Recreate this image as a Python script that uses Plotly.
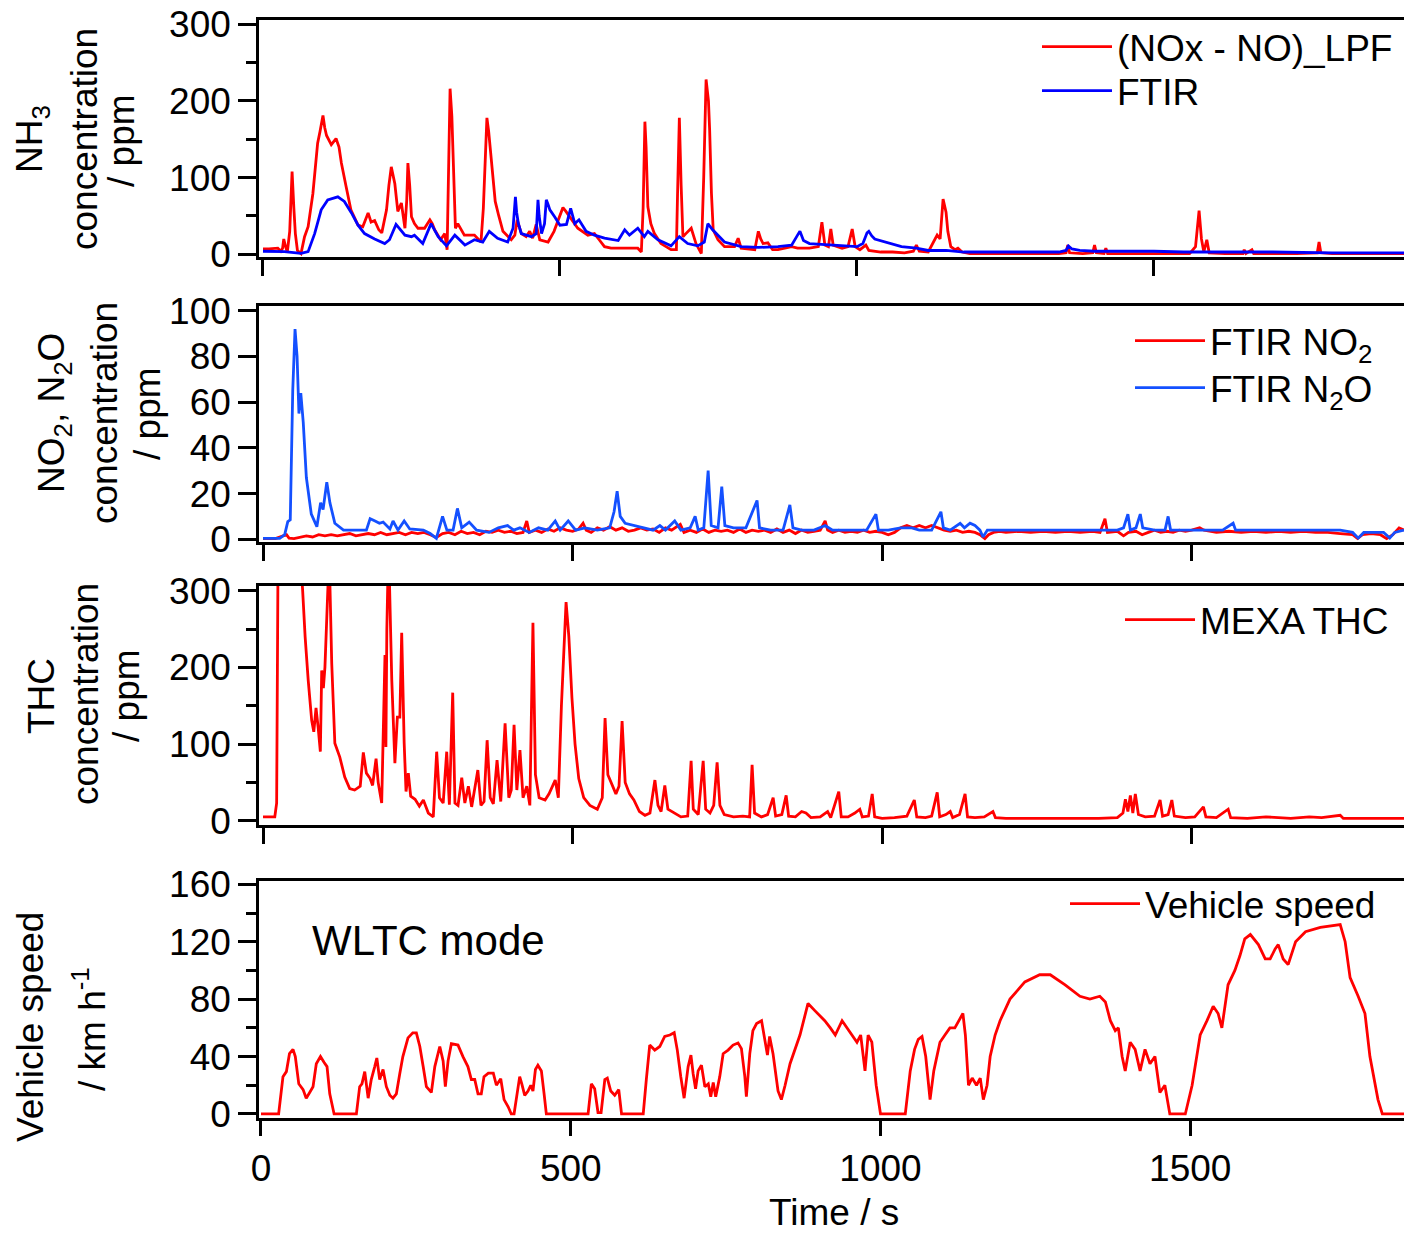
import plotly.graph_objects as go

FONT = "Liberation Sans, Arial, sans-serif"

# ---------------- data (time [s], value) ----------------
# Panel 1: NH3 concentration / ppm
nh3_lpf = [(0,7),(10,7),(25,8),(30,4),(33,8),(35,20),(38,10),(41,3),(45,30),(49,108),(52,60),(54.5,27),
 (58,5),(64,1),(70,23),(76,36),(84,79),(92,145),(96,160),(101,181),(104,165),(107,155),(115,143),(123,151),
 (128,140),(132,119),(140,88),(148,58),(160,38),(168,36),(177,54),(182,42),(188,44),(195,32),(200,28),
 (204,45),(208,58),(212,90),(216,114),(222,92),(227,56),(233,67),(239,34),(242,70),(244,119),(247,90),
 (250,49),(255,40),(261,34),(272,34),(281,45),(285,40),(289,32),(299,19),(306,27),(310,6),(312,80),
 (315,216),(318,180),(320,119),(324,34),(328,40),(339,25),(356,25),(362,20),(367,16),(371,60),(377,178),
 (380,160),(384,123),(391,69),(397,50),(404,30),(418,19),(424,25),(428,45),(435,27),(443,23),(449,30),
 (454,21),(460,39),(466,19),(480,16),(490,30),(497,45),(505,61),(510,56),(516,49),(530,34),(547,25),
 (558,27),(566,19),(575,10),(586,8),(609,8),(631,8),(637,3),(640,60),(643,173),(645,140),(648,62),
 (653,40),(659,27),(670,14),(687,6),(696,6),(698,80),(701,178),(704,90),(707,23),(712,27),(721,34),
 (729,14),(738,1),(742,100),(746,228),(750,200),(752,162),(755,80),(758,32),(766,19),(777,10),(794,10),
 (800,21),(805,8),(828,6),(834,30),(838,20),(842,14),(850,15),(858,6),(867,6),(890,10),(900,8),(920,8),
 (935,10),(941,42),(946,12),(952,10),(956,33),(960,12),(975,8),(985,10),(992,33),(997,10),(1005,6),
 (1015,12),(1020,5),(1040,3),(1060,3),(1080,2),(1095,4),(1100,12),(1105,4),(1120,3),(1135,25),(1140,20),
 (1145,72),(1150,55),(1153,30),(1158,10),(1165,6),(1170,8),(1177,3),(1190,1),(1220,1),(1260,0.5),
 (1300,0.5),(1340,1),(1352,2),(1355,12),(1358,2),(1380,1),(1397,2),(1400,12),(1403,2),(1416,1),(1419,8),
 (1422,1),(1450,1),(1500,1),(1560,1),(1570,10),(1576,57),(1580,20),(1584,3),(1589,19),(1593,2),(1620,1),
 (1650,1),(1652,6),(1655,1),(1665,6),(1668,1),(1700,1),(1740,1),(1775,2),(1778,16),(1781,2),(1800,1),
 (1850,1),(1921,1)]
nh3_ftir = [(0,4),(36,3.5),(64,1.3),(76,3.5),(87,27),(98,58),(109,71),(126,75),(137,69),(149,54),(160,38),
 (171,27),(188,20),(205,14),(213,19),(224,39),(239,25),(250,23),(255,25),(269,14),(283,40),(295,23),
 (309,11),(323,25),(340,12),(356,19),(370,16),(381,30),(395,21),(412,16),(421,34),(423,60),(425,75),
 (427,55),(430,40),(435,27),(452,23),(460,27),(462,55),(463,71),(465,50),(469,27),(474,40),(477,71),
 (480,65),(483,58),(491,49),(500,38),(511,39),(518,60),(525,40),(532,45),(544,30),(558,25),(575,21),
 (598,18),(609,32),(617,25),(631,34),(642,23),(648,30),(665,19),(687,11),(701,23),(715,14),(732,11),
 (743,16),(749,40),(757,32),(777,16),(805,10),(834,9),(867,10),(890,12),(900,25),(904,30),(910,18),
 (920,14),(940,13),(960,12),(985,11),(1000,10),(1010,14),(1017,28),(1020,30),(1025,24),(1030,20),
 (1040,18),(1055,14),(1075,10),(1100,8),(1120,5),(1150,5),(1180,3),(1230,3),(1300,3),(1340,3),(1352,5),
 (1356,11),(1362,7),(1375,5),(1400,4),(1450,4),(1500,4),(1550,3),(1600,3),(1700,3),(1800,2),(1921,2)]

# Panel 2: NO2, N2O concentration / ppm
no2_ftir = [(0,0.3),(20,0.3),(38,2),(42,0.5),(50,0.3),(60,1),(70,1.5),(80,1),(90,2),(100,1.5),(110,2),
 (120,1.5),(130,2),(140,2.5),(150,1.5),(160,2),(170,2.5),(180,2),(190,3),(200,2),(210,2.5),(220,3),
 (230,2),(240,3),(250,2.5),(260,3),(270,2),(280,0.8),(290,2.5),(300,3),(310,2),(320,3.5),(330,2.5),
 (340,3),(350,2),(360,3.5),(370,3),(380,4),(390,3),(400,3.5),(410,2.5),(420,3),(426,8),(430,3),(440,4),
 (450,3),(460,4.5),(470,3.5),(480,5),(490,4),(500,3.5),(510,4.5),(517,7),(522,4),(530,3),(540,5),
 (550,4),(560,5.5),(570,4),(580,5),(590,3.5),(600,4),(610,5),(620,4),(630,4.5),(640,3),(650,5),(660,4),
 (674,6.5),(680,3),(690,4),(700,3),(710,4.5),(720,3),(730,4),(740,3.5),(750,4),(760,3),(770,4.5),
 (780,3),(790,4),(800,3.5),(810,4),(820,3),(830,4.5),(840,3),(850,4),(860,2.5),(870,4),(880,3),
 (890,3.5),(900,4),(908,8),(912,4),(920,3),(930,4),(940,3),(950,3.5),(960,3),(970,4),(980,3),
 (990,3.5),(1000,3),(1010,2),(1020,3),(1030,5),(1040,6),(1050,5),(1060,6),(1070,5),(1080,6),(1090,5),
 (1100,4),(1110,3.5),(1120,4),(1130,3),(1140,3.5),(1150,3),(1158,2),(1166,0.3),(1172,2),(1180,3),
 (1190,3.5),(1200,3),(1220,3.5),(1240,3),(1260,3.5),(1280,3),(1300,3.5),(1320,3),(1340,3.5),(1352,3),
 (1360,9),(1364,3),(1380,3.5),(1390,1.5),(1398,3),(1410,3.5),(1420,2),(1430,3),(1440,4),(1450,3),
 (1460,3.5),(1470,3),(1480,4),(1490,3.5),(1500,4),(1513,5),(1520,4),(1540,3),(1560,3.5),(1580,3),
 (1600,3.5),(1620,3),(1640,3.5),(1660,3),(1680,3.5),(1700,3),(1720,3),(1740,2.5),(1760,2),(1768,0.3),
 (1776,2),(1790,2.5),(1805,2),(1815,0.3),(1825,2),(1835,5),(1843,4)]
n2o_ftir = [(0,0.4),(27,0.4),(35,2),(40,7.7),(44,8.5),(48,65),(51.7,92),(55,80),(58,55),(61,64),(65,51),
 (70,27),(78,11),(87,5.5),(93,16),(97,13),(103,25),(108,16),(116,7),(130,4),(167,4),(173,9),(181,8),
 (188,7),(194,7.5),(205,4.5),(210,8),(218,4),(228,8),(237,4.5),(259,4),(270,2.5),(280,0.4),(290,10),
 (297,4),(307,4),(314,13.5),(321,5),(333,7.5),(345,4),(365,3),(380,5),(395,6),(405,4),(415,5),(430,3),
 (445,5),(460,4),(472,8),(480,4),(493,8),(505,4),(520,5),(540,4),(560,5),(567,12),(572,21),(577,10),
 (585,7),(600,6),(615,5),(630,4),(641,6),(650,4),(665,8),(675,4),(690,5),(698,10),(703,4),(712,5),
 (719,30),(724,6),(735,5),(741,23),(746,6),(760,5),(780,5),(798,17),(802,5),(820,4),(840,4),(851,15),
 (856,5),(870,4),(890,4),(908,6),(920,4),(950,4),(975,4),(990,11),(994,4),(1010,4),(1030,5),(1048,5),
 (1060,4),(1080,4),(1095,12),(1099,5),(1110,4),(1126,7),(1133,5),(1142,7),(1150,6),(1158,4),(1163,1),
 (1170,4),(1200,4),(1250,4),(1300,4),(1350,4),(1380,4),(1390,5),(1397,11),(1401,4),(1410,5),(1417,11),
 (1421,5),(1440,4),(1457,4),(1462,10),(1466,4),(1480,4),(1520,4),(1550,4),(1567,7),(1571,4),(1600,4),
 (1650,4),(1700,4),(1740,4),(1760,3),(1769,0.5),(1778,3),(1800,3),(1810,3),(1820,0.5),(1828,3),(1843,4)]

# Panel 3: THC concentration / ppm (values above 300 run off the axis)
thc_mexa = [(0,5),(19,5),(22,23),(23,183),(25,450),(40,450),(55,420),(64,300),(68,240),(73,183),
 (78.6,131),(82,116),(85.6,147),(89,122),(92.6,90),(94.8,196),(97.5,173),(100,200),(104,300),(106,330),
 (108,310),(111,205),(116,101),(124,83),(132,57),(140,42),(148,40),(157,45),(162,89),(167,62),(173,55),
 (177,46),(182.6,81),(186,50),(191.7,23),(194,129),(197,216),(198.5,96),(200,250),(202,330),(204,320),
 (206,250),(208,183),(213,75),(217,135),(221,135),(224,245),(228,101),(231,38),(234.7,62),(238.5,32),
 (245.6,28),(252.5,19),(259,27),(267,10),(275,5),(280.5,90),(285,30),(291,23),(296.7,90),(301,21),
 (306.4,167),(310,23),(315,20),(321,56),(326,23),(331.7,45),(337,18),(347,66),(352,20),(357,25),
 (362,105),(367,30),(372,22),(378,79),(384,25),(391,127),(397,30),(401,40),(405.5,125),(410,40),
 (415,92),(420,30),(426,45),(431,20),(436,258),(440,60),(446,30),(455.6,27),(462,35),(472,53),(477,30),
 (482,150),(489.5,285),(494,240),(499,160),(504,100),(510,55),(518,30),(528,20),(540,15),(548,30),
 (552.5,134),(557,60),(564,46),(570,35),(575,45),(580,130),(585,50),(592,35),(599,27),(608,12),(617,7),
 (625,10),(633,53),(638,20),(643,12),(649,46),(654,15),(665.6,10),(675,5),(686,6),(691.5,78),(695,15),
 (703,8),(711,78),(715,15),(722,10),(728,20),(733.5,76),(738,20),(745,8),(760,5),(775,6),(786,5),
 (790,73),(794,10),(805,5),(815,8),(824,30),(828,6),(838,8),(845,33),(849,6),(860,5),(870,12),(877,10),
 (885,4),(900,5),(912,12),(917,4),(930,38),(934,5),(945,5),(956,10),(964,15),(968,5),(978,6),(984,35),
 (988,5),(1000,3),(1020,4),(1040,6),(1052,27),(1056,5),(1070,4),(1080,6),(1089,37),(1093,5),(1103,8),
 (1110,12),(1114,4),(1125,8),(1134,35),(1138,5),(1150,4),(1165,5),(1179,12),(1183,4),(1200,3),(1250,3),
 (1300,3),(1350,3),(1380,4),(1389,10),(1393,28),(1397,12),(1401,33),(1405,10),(1409,35),(1414,8),
 (1425,5),(1440,6),(1449,27),(1453,6),(1462,8),(1468,27),(1472,6),(1490,4),(1505,5),(1519,18),
 (1523,5),(1540,4),(1559,15),(1563,4),(1590,3),(1620,5),(1640,4),(1660,3),(1690,5),(1710,4),(1740,7),
 (1745,3),(1780,3),(1843,3)]

# Panel 4: vehicle speed / km h-1 (WLTC mode)
speed = [(0,0),(28.5,0),(35.5,26),(41,29.5),(46,42),(51.7,45),(55.4,40),(61,21),(68,17),(73,11),
 (78.6,15),(84,19),(89.3,35),(96,40),(101.7,36),(106.6,33),(111,14),(118,0),(154,0),(159.3,19),(163,21),
 (167.5,29.5),(173,11),(178,24),(183.6,33),(187,39),(191.6,24),(197,31),(202.4,19),(208,13),(213,11),
 (218.5,14),(224,28),(229,40),(237.3,53),(245,56.5),(250.8,56.5),(256.4,47),(261.8,33),(267,19),
 (275,15),(280.6,33),(288.6,47),(294,37),(297.6,19),(302,37),(307.3,49),(318,48),(326,40),(334,33),
 (339.6,24),(345,24),(350.3,14),(355.6,14),(360,26),(367,28.5),(375,28.5),(380,20),(387,24.5),
 (392.4,10),(399,5),(404,0),(408.5,0),(414,16),(417.6,26),(421,21),(425.7,13),(431,16),(435.4,20),
 (439,16),(443,31),(447,34),(452.6,30),(457,14),(460.6,0),(528,0),(533.3,21),(538.6,17.5),(544,1),
 (549,1),(555,24),(559,25),(564.6,16),(571,13),(577.5,17),(582,0),(617,0),(622,24),(627.5,48),
 (635.6,44.5),(643.7,47),(651.7,54),(660,55),(667,56.6),(672,44.5),(677.6,26),(683,11),(689.5,33),
 (694,41),(697.6,28),(701.5,17.5),(705.6,30),(711,34),(716.5,19),(722,21),(726,12),(730,22),(734,12),
 (740.5,26),(746,42),(754,44.5),(762,48),(770,49.5),(775.5,45.5),(781,26),(783.5,12),(789,42),(794,58),
 (800,63),(808,65),(813,51),(817.5,41),(821,54),(826.5,42),(834.6,16),(840,10),(846,20),(854,35),
 (870,55),(883,77),(894,72),(910,65),(919,60),(927,55),(938,65),(946,60),(955,55),(962,50),(968,55),
 (975,30),(980,55),(986,50),(993,20),(1000,0),(1040,0),(1048,30),(1055,45),(1061,52),(1067,54),
 (1073,40),(1080,10),(1086,30),(1090,38),(1096,50),(1104,55),(1112,60),(1120,60),(1126,65),(1133,70),
 (1137,55),(1142,20),(1148,25),(1155,20),(1161,25),(1166,10),(1172,20),(1177,40),(1185,55),(1193,65),
 (1209,80),(1233,92),(1257,97),(1274,97),(1298,90),(1322,82),(1338,80),(1354,82),(1363,78),(1371,65),
 (1379,58),(1384,60),(1390,40),(1395,30),(1403,50),(1411,45),(1419,30),(1427,45),(1435,35),(1443,40),
 (1451,15),(1459,20),(1467,0),(1492,0),(1503,20),(1516,55),(1527,65),(1537,75),(1545,70),(1551,60),
 (1561,90),(1572,100),(1580,110),(1588,122),(1597,125),(1610,118),(1621,108),(1629,108),(1637,115),
 (1642,118),(1650,108),(1658,104),(1670,120),(1686,127),(1710,130),(1726,131),(1742,132),(1750,120),
 (1758,95),(1771,82),(1782,70),(1790,40),(1803,10),(1810,0),(1845,0)]

x_ticks = [0, 500, 1000, 1500]

# ---------------- figure ----------------
W, H, L = 1404, 1234, 259
def pyf(p):  # pixel row -> paper y
    return 1 - p / H
def pxf(p):  # pixel column -> paper x
    return (p - L) / (W - L)

RED = "#FF0000"
BLUE1 = "#0000FF"
BLUE2 = "#1450FF"
LW = 2.8

def xy(pairs):
    return [a for a, b in pairs], [b for a, b in pairs]

fig = go.Figure()
series = [
    (nh3_lpf, RED, "(NOx - NO)_LPF", "x", "y", "legend"),
    (nh3_ftir, BLUE1, "FTIR", "x", "y", "legend2"),
    (no2_ftir, RED, "FTIR NO<sub>2</sub>", "x2", "y2", "legend3"),
    (n2o_ftir, BLUE2, "FTIR N<sub>2</sub>O", "x2", "y2", "legend4"),
    (thc_mexa, RED, "MEXA THC", "x3", "y3", "legend5"),
    (speed, RED, "Vehicle speed", "x4", "y4", "legend6"),
]
for pairs, col, name, xa, ya, lg in series:
    t, v = xy(pairs)
    fig.add_trace(go.Scatter(x=t, y=v, mode="lines", line=dict(color=col, width=LW),
                             name=name, xaxis=xa, yaxis=ya, legend=lg))

tickfont = dict(family=FONT, size=37, color="black")
common = dict(showline=True, linecolor="black", linewidth=2.5, ticks="outside", tickcolor="black",
              tickwidth=2.5, showgrid=False, zeroline=False, tickfont=tickfont, automargin=False)

def xaxis(anchor, rng, labels):
    return dict(common, anchor=anchor, domain=[0, 1], range=rng, tickvals=x_ticks,
                showticklabels=labels, mirror=True, ticklen=16, ticklabelstandoff=0)

def yaxis(dom, rng, ticks, minor=None):
    d = dict(common, domain=dom, range=rng, tickvals=ticks, ticklen=18, mirror=False,
             ticklabelstandoff=0)
    if minor:
        d["minor"] = dict(tickvals=minor, ticklen=10, ticks="outside", tickwidth=2.5, tickcolor="black",
                          showgrid=False)
    return d

fig.update_layout(
    width=W, height=H, margin=dict(l=L, r=0, t=0, b=0, autoexpand=False),
    paper_bgcolor="white", plot_bgcolor="white",
    font=dict(family=FONT, size=37, color="black"),
    xaxis=xaxis("y", [-6.7, 1921], False),
    xaxis2=xaxis("y2", [-6.5, 1843], False),
    xaxis3=xaxis("y3", [-6.5, 1843], False),
    xaxis4=xaxis("y4", [-3.2, 1845], True),
    yaxis=yaxis([pyf(257), pyf(20)], [-3.5, 305.6], [0, 100, 200, 300], [50, 150, 250]),
    yaxis2=yaxis([pyf(542), pyf(305.7)], [-1.2, 102.2], [0, 20, 40, 60, 80, 100]),
    yaxis3=yaxis([pyf(825), pyf(585.7)], [-5.6, 306.5], [0, 100, 200, 300], [50, 150, 250]),
    yaxis4=yaxis([pyf(1117.7), pyf(881)], [-2.6, 162.3], [0, 40, 80, 120, 160], [20, 60, 100, 140]),
)

def legend(xp, yp):
    return dict(x=pxf(xp), y=pyf(yp), xanchor="left", yanchor="top", bgcolor="rgba(0,0,0,0)",
                borderwidth=0, font=dict(family=FONT, size=37, color="black"), itemwidth=70)

fig.update_layout(showlegend=True,
                  legend=legend(1037, 16), legend2=legend(1037, 60),
                  legend3=legend(1130, 310), legend4=legend(1130, 357),
                  legend5=legend(1120, 589), legend6=legend(1065, 873))

ann = []
def ytitle(text, cx, cy):
    ann.append(dict(text=text, x=pxf(cx), y=pyf(cy), xref="paper", yref="paper", showarrow=False,
                    textangle=-90, xanchor="center", yanchor="middle",
                    font=dict(family=FONT, size=37, color="black")))

ytitle("NH<sub>3</sub>", 32, 139)
ytitle("concentration", 84, 139)
ytitle("/ ppm", 122, 141)
ytitle("NO<sub>2</sub>, N<sub>2</sub>O", 54, 413)
ytitle("concentration", 104, 413)
ytitle("/ ppm", 147, 414)
ytitle("THC", 42, 696)
ytitle("concentration", 85, 694)
ytitle("/ ppm", 127, 696)
ytitle("Vehicle speed", 30, 1027)
ytitle("/ km h<sup>-1</sup>", 89, 1029)

ann.append(dict(text="Time / s", x=pxf(834), y=pyf(1212), xref="paper", yref="paper", showarrow=False,
                xanchor="center", yanchor="middle", font=dict(family=FONT, size=37, color="black")))
ann.append(dict(text="WLTC mode", x=pxf(310), y=pyf(940), xref="paper", yref="paper", showarrow=False,
                xanchor="left", yanchor="middle", font=dict(family=FONT, size=42, color="black")))
fig.update_layout(annotations=ann)

fig.write_html("out.html")
